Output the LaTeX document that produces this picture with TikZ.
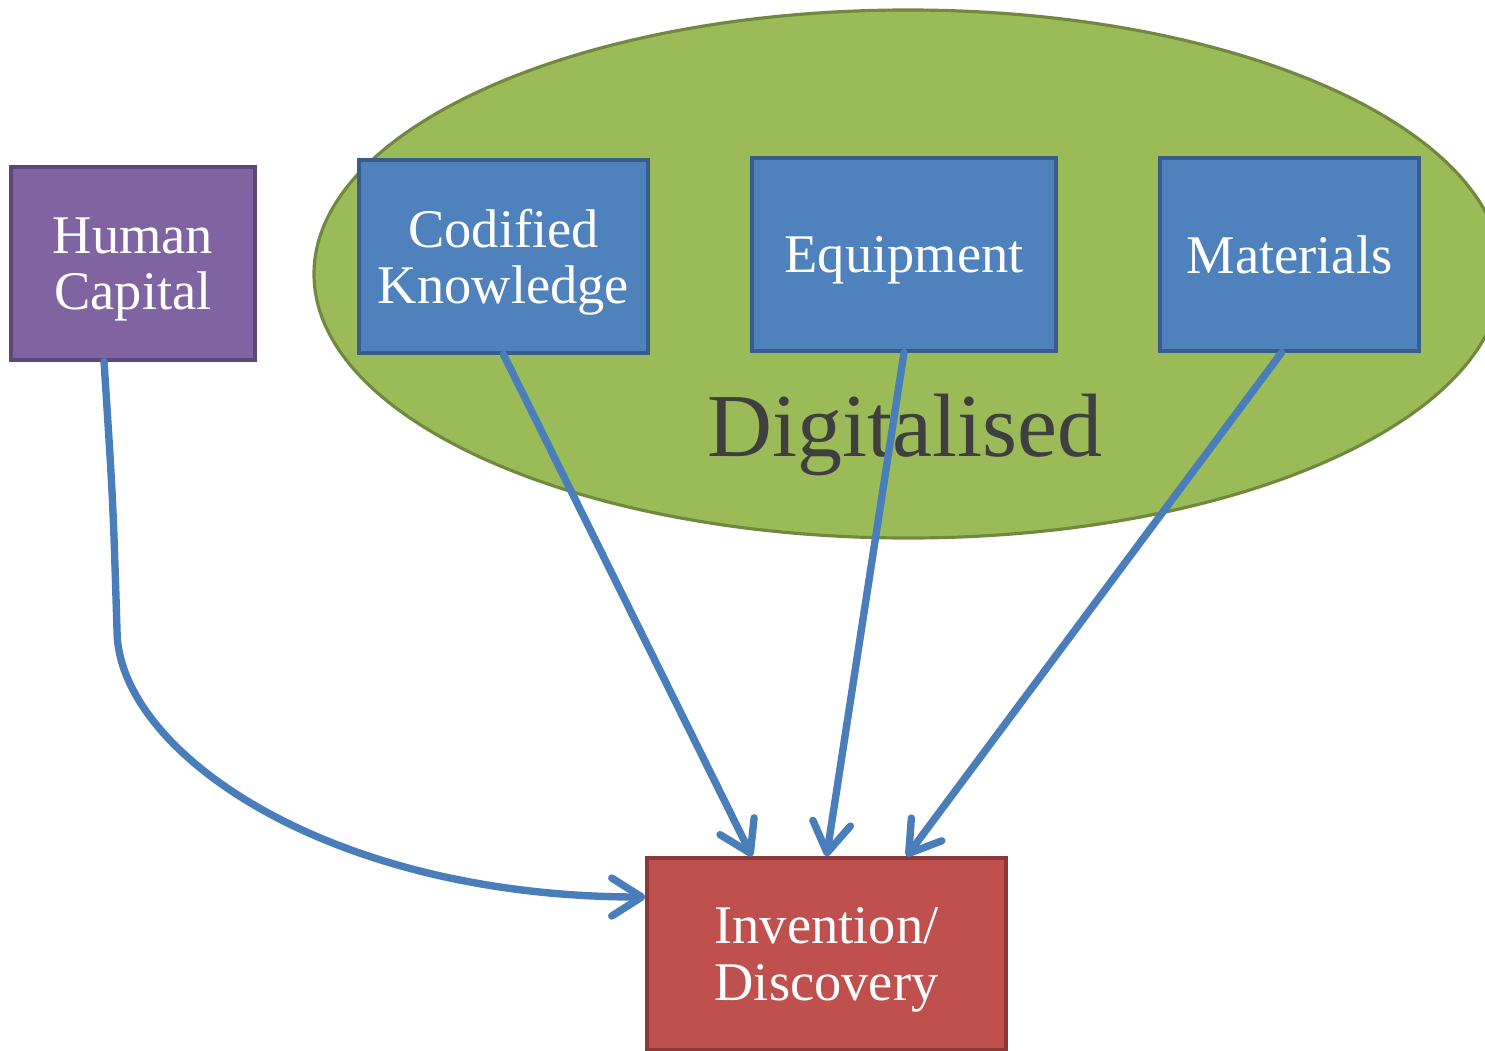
\documentclass[tikz,border=0pt]{standalone}
\usepackage{fontspec}
\setmainfont{Liberation Serif}
\usetikzlibrary{arrows.meta}
\definecolor{capfill}{HTML}{8064A2}
\definecolor{capline}{HTML}{5C4776}
\definecolor{digfill}{HTML}{4F81BD}
\definecolor{digline}{HTML}{385D8A}
\definecolor{invfill}{HTML}{C0504D}
\definecolor{invline}{HTML}{8C3836}
\definecolor{ovalfill}{HTML}{9BBB59}
\definecolor{ovalline}{HTML}{71893F}
\definecolor{arrowblue}{HTML}{4A7EBB}
\definecolor{bigtext}{HTML}{3F3F3F}

\begin{document}
\begin{tikzpicture}[
		box/.style={draw,rectangle,line width=0.9pt,minimum height=1.93cm,text=white,align=center,text depth=0pt,font=\fontsize{15.5}{16}\selectfont},
		link/.style={draw=arrowblue,line width=2.1pt,line cap=round,-{Straight Barb[length=3mm,width=3.8mm,line cap=round,line join=round]}}]
		\useasboundingbox (0,0) rectangle (14.85,10.5);
		\clip (0,0) rectangle (14.85,10.5);
		% digitalised area
		\draw[fill=ovalfill,draw=ovalline,line width=0.9pt] (9.08,7.76) ellipse [x radius=5.94,y radius=2.64];
		\node (dl) at (9.05, 6.15) [text=bigtext,font=\fontsize{25.6}{30}\selectfont] {Digitalised};
		% inputs
		\node (hc) at (1.33, 7.865) [box,fill=capfill,draw=capline,minimum width=2.44cm] {Human\\Capital};
		\node (ck) at (5.035, 7.935) [box,fill=digfill,draw=digline,minimum width=2.89cm] {Codified\\Knowledge};
		\node (eq) at (9.04, 7.955) [box,fill=digfill,draw=digline,minimum width=3.04cm] {Equipment};
		\node (mt) at (12.895, 7.955) [box,fill=digfill,draw=digline,minimum width=2.59cm] {Materials};
		% output
		\node (inv) at (8.265, 0.96) [box,fill=invfill,draw=invline,minimum width=3.59cm,minimum height=1.92cm] {Invention/\\Discovery};
		\draw[link] ([xshift=-0.29cm]hc.south) .. controls (1.13,5.5) .. (1.17,4.2) .. controls (1.17,3.0) and (3.25,1.53) .. ([yshift=0.57cm]inv.west);
		\draw[link] (ck.south) -- ([xshift=-0.745cm]inv.north);
		\draw[link] (eq.south) -- (inv.north);
		\draw[link] ([xshift=-0.08cm]mt.south) -- ([xshift=0.8cm]inv.north);
	\end{tikzpicture}
\end{document}
